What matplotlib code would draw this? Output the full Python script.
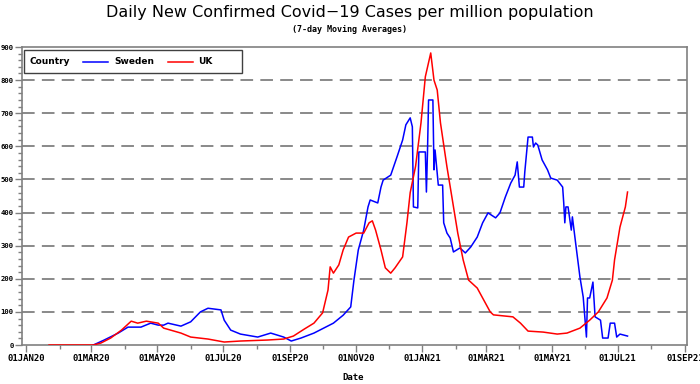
import numpy as np
import pandas as pd
import matplotlib
matplotlib.use('Agg')
from matplotlib import pyplot as plt
import matplotlib.dates as mdates
from matplotlib.patches import Rectangle
from matplotlib.lines import Line2D

# values (cases per million, 7-day avg)
sweden_dates = ['2020-03-03', '2020-03-13', '2020-03-26', '2020-04-04', '2020-04-16', '2020-04-25',
                '2020-05-02', '2020-05-07', '2020-05-11', '2020-05-23', '2020-06-01', '2020-06-10',
                '2020-06-17', '2020-06-29', '2020-07-02', '2020-07-08', '2020-07-17', '2020-08-02',
                '2020-08-14', '2020-08-26', '2020-09-02', '2020-09-11', '2020-09-23', '2020-10-11',
                '2020-10-20', '2020-10-27', '2020-10-30', '2020-11-03', '2020-11-08', '2020-11-12',
                '2020-11-14', '2020-11-21', '2020-11-24', '2020-11-26', '2020-12-03', '2020-12-09',
                '2020-12-14', '2020-12-17', '2020-12-21', '2020-12-23', '2020-12-24', '2020-12-28',
                '2020-12-29', '2021-01-04', '2021-01-05', '2021-01-06', '2021-01-07', '2021-01-11',
                '2021-01-12', '2021-01-13', '2021-01-16', '2021-01-20', '2021-01-21', '2021-01-24',
                '2021-01-27', '2021-01-30', '2021-02-05', '2021-02-10', '2021-02-15', '2021-02-21',
                '2021-02-26', '2021-03-03', '2021-03-10', '2021-03-14', '2021-03-19', '2021-03-24',
                '2021-03-28', '2021-03-30', '2021-04-01', '2021-04-05', '2021-04-06', '2021-04-09',
                '2021-04-13', '2021-04-14', '2021-04-16', '2021-04-18', '2021-04-22', '2021-04-27',
                '2021-04-30', '2021-05-06', '2021-05-11', '2021-05-12', '2021-05-13', '2021-05-14',
                '2021-05-16', '2021-05-19', '2021-05-20', '2021-05-23', '2021-05-27', '2021-05-30',
                '2021-06-02', '2021-06-03', '2021-06-05', '2021-06-08', '2021-06-10', '2021-06-15',
                '2021-06-17', '2021-06-22', '2021-06-24', '2021-06-28', '2021-06-30', '2021-07-03',
                '2021-07-10']
sweden_vals = [0, 15, 36, 54, 54, 66,
               60, 60, 66, 57, 70, 100,
               111, 106, 75, 45, 33, 24,
               36, 24, 12, 21, 36, 66,
               90, 115, 196, 287, 347, 417,
               438, 429, 477, 498, 513, 570,
               619, 665, 686, 659, 417, 414,
               583, 583, 462, 583, 740, 740,
               529, 589, 483, 483, 369, 338,
               323, 281, 293, 278, 296, 326,
               369, 399, 384, 399, 447, 489,
               513, 553, 477, 477, 523, 628,
               628, 598, 610, 604, 559, 529,
               504, 498, 477, 429, 369, 417,
               417, 347, 387, 308, 205, 145,
               24, 142, 142, 190, 85, 75,
               21, 21, 66, 66, 24, 33,
               27]

uk_dates = ['2020-01-22', '2020-03-03', '2020-03-10', '2020-03-19', '2020-03-29', '2020-04-07',
            '2020-04-13', '2020-04-21', '2020-05-02', '2020-05-07', '2020-05-23', '2020-06-01',
            '2020-06-17', '2020-07-02', '2020-07-17', '2020-08-11', '2020-08-26', '2020-09-04',
            '2020-09-14', '2020-09-23', '2020-10-01', '2020-10-06', '2020-10-08', '2020-10-11',
            '2020-10-16', '2020-10-20', '2020-10-25', '2020-11-01', '2020-11-08', '2020-11-13',
            '2020-11-16', '2020-11-19', '2020-11-24', '2020-11-28', '2020-12-03', '2020-12-07',
            '2020-12-14', '2020-12-18', '2020-12-21', '2020-12-26', '2020-12-31', '2021-01-04',
            '2021-01-09', '2021-01-12', '2021-01-15', '2021-01-18', '2021-01-24', '2021-01-29',
            '2021-02-03', '2021-02-08', '2021-02-13', '2021-02-21', '2021-02-27', '2021-03-05',
            '2021-03-08', '2021-03-17', '2021-03-26', '2021-04-02', '2021-04-09', '2021-04-23',
            '2021-05-06', '2021-05-15', '2021-05-27', '2021-06-05', '2021-06-13', '2021-06-21',
            '2021-06-26', '2021-06-28', '2021-07-03', '2021-07-08', '2021-07-10']
uk_vals = [0, 0, 6, 21, 45, 72,
           66, 72, 66, 51, 36, 24,
           18, 9, 12, 15, 18, 27,
           48, 66, 97, 166, 236, 217,
           242, 287, 326, 338, 338, 369,
           375, 347, 287, 233, 217, 233,
           266, 369, 460, 540, 671, 810,
           882, 800, 770, 671, 538, 438,
           338, 257, 196, 172, 136, 100,
           91, 88, 85, 66, 42, 39,
           33, 36, 51, 75, 100, 142,
           196, 257, 356, 417, 462]

y_ticks = list(range(0, 901, 100))
x_tick_dates = ['2020-01-01', '2020-03-01', '2020-05-01', '2020-07-01', '2020-09-01',
                '2020-11-01', '2021-01-01', '2021-03-01', '2021-05-01', '2021-07-01', '2021-09-01']

GRAY = '#808080'
MONO = 'DejaVu Sans Mono'

fig = plt.figure(figsize=(7, 3.84), dpi=100)
ax = fig.add_axes([22/700, 1-345/384, (687-22)/700, (345-47)/384])

ax.plot(pd.to_datetime(sweden_dates), sweden_vals, color='#0000ff', lw=1.1, zorder=3)
ax.plot(pd.to_datetime(uk_dates), uk_vals, color='#ff0000', lw=1.1, zorder=4)

ax.set_ylim(0, 900)
ax.set_xlim(pd.Timestamp('2019-12-28'), pd.Timestamp('2021-09-03'))

for v in y_ticks[1:-1]:
    ax.axhline(v, color=GRAY, lw=1.3, ls=(0, (7, 4)), zorder=1)

ax.set_yticks(y_ticks)
ax.set_yticks(range(0, 901, 20), minor=True)
ax.set_xticks(pd.to_datetime(x_tick_dates))
ax.xaxis.set_minor_locator(mdates.MonthLocator())
ax.set_xticklabels([pd.Timestamp(d).strftime('%d%b%y').upper() for d in x_tick_dates])

ax.tick_params(axis='both', which='major', length=5, width=1, color=GRAY)
ax.tick_params(axis='both', which='minor', length=3, width=1, color=GRAY)
ax.tick_params(axis='x', labelsize=6.5, pad=1.5)
ax.tick_params(axis='y', labelsize=5.2, pad=1)
for lbl in ax.get_xticklabels() + ax.get_yticklabels():
    lbl.set_fontfamily(MONO)
    lbl.set_fontweight('bold')
for s in ax.spines.values():
    s.set_color(GRAY)
    s.set_linewidth(1.2)

# legend box
tr = ax.transAxes
def ax_x(px):
    return (px - 22) / (687 - 22)
def ax_y(py):
    return (345 - py) / (345 - 47)
ax.add_patch(Rectangle((ax_x(24), ax_y(73)), ax_x(242) - ax_x(24), ax_y(50) - ax_y(73),
                       transform=tr, fill=False, edgecolor='#404040', lw=1, zorder=5))
ax.text(ax_x(30), ax_y(62), 'Country', transform=tr, fontsize=6.5, fontweight='bold',
        va='center', ha='left', zorder=6)
ax.add_line(Line2D([ax_x(83), ax_x(108)], [ax_y(62)] * 2, transform=tr, color='#0000ff', lw=1.1))
ax.text(ax_x(114), ax_y(62), 'Sweden', transform=tr, fontsize=6.5, fontweight='bold',
        va='center', ha='left')
ax.add_line(Line2D([ax_x(168), ax_x(193)], [ax_y(62)] * 2, transform=tr, color='#ff0000', lw=1.1))
ax.text(ax_x(198), ax_y(62), 'UK', transform=tr, fontsize=6.5, fontweight='bold',
        va='center', ha='left')

fig.text(0.5, 1 - 13/384, 'Daily New Confirmed Covid\u221219 Cases per million population',
         ha='center', va='center', fontsize=11.5)
fig.text(0.5, 1 - 29/384, '(7-day Moving Averages)', ha='center', va='center',
         fontsize=6, family=MONO, fontweight='bold')
fig.text(353/700, 1 - 378/384, 'Date', ha='center', va='center', fontsize=6.5,
         family=MONO, fontweight='bold')

fig.savefig('out.png', dpi=100)
